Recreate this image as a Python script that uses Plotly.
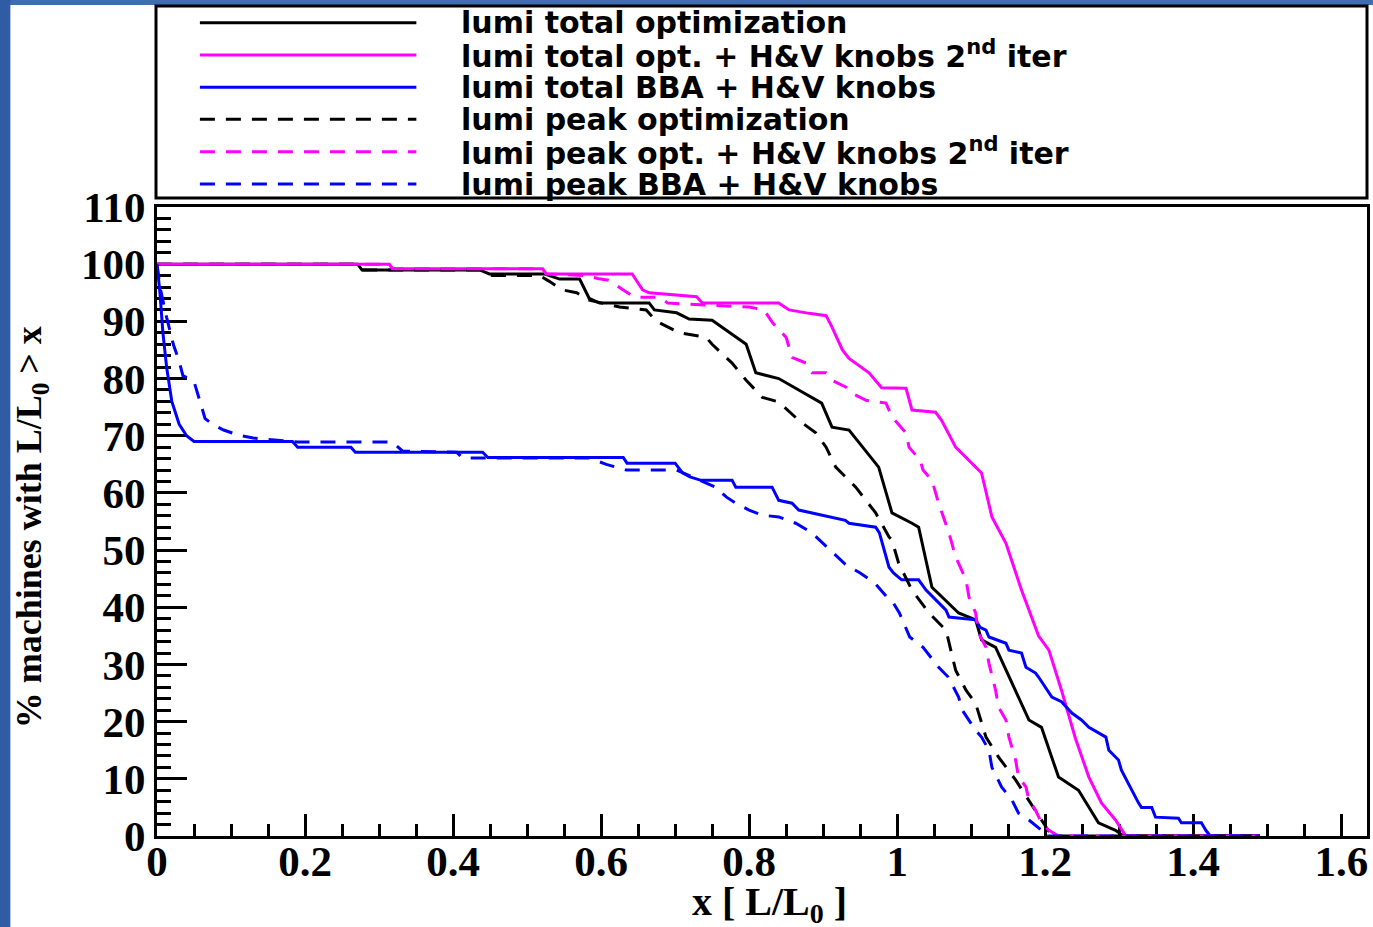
import plotly.graph_objects as go

# ---------------- data ----------------
labels = [
    "lumi total optimization",
    "lumi total opt. + H&amp;V knobs 2<sup>nd</sup> iter",
    "lumi total BBA + H&amp;V knobs",
    "lumi peak optimization",
    "lumi peak opt. + H&amp;V knobs 2<sup>nd</sup> iter",
    "lumi peak BBA + H&amp;V knobs",
]

tot_opt_x = [0, 0.271, 0.277, 0.436, 0.449, 0.523, 0.544, 0.571, 0.584, 0.598, 0.665, 0.672, 0.702,
             0.719, 0.750, 0.796, 0.809, 0.840, 0.867, 0.898, 0.912, 0.935, 0.975, 0.993, 1.020,
             1.029, 1.047, 1.083, 1.106, 1.114, 1.133, 1.178, 1.195, 1.218, 1.245, 1.272, 1.295,
             1.306, 1.49]
tot_opt_y = [100, 100, 99, 99, 98.3, 98.3, 97.4, 97.4, 94, 93.2, 93.2, 92, 91.5,
             90.4, 90.2, 86, 81, 80, 78, 75.7, 71.5, 71, 64.5, 56.5, 54.7,
             54, 43.5, 39, 37.8, 34.3, 33, 20.3, 19, 10.3, 8, 2.3, 1,
             0, 0]

tot_hv_x = [0, 0.314, 0.318, 0.521, 0.526, 0.642, 0.656, 0.665, 0.729, 0.737, 0.840, 0.854, 0.881,
            0.904, 0.912, 0.926, 0.935, 0.962, 0.979, 1.012, 1.020, 1.052, 1.060, 1.079, 1.110,
            1.114, 1.128, 1.147, 1.168, 1.191, 1.205, 1.222, 1.241, 1.259, 1.276, 1.295, 1.309, 1.49]
tot_hv_y = [100, 100, 99.2, 99.2, 98.3, 98.3, 95.5, 95, 94.3, 93.2, 93.2, 92, 91.4,
            91, 89, 85, 83.5, 81, 78.4, 78.3, 74.5, 74.1, 72.7, 68, 64,
            63.5, 55.8, 51.2, 43, 35, 32.5, 25.5, 17, 10.3, 5.8, 2.8, 0, 0]

tot_bba_x = [0, 0.004, 0.008, 0.013, 0.020, 0.030, 0.040, 0.050, 0.183, 0.190, 0.262, 0.268, 0.440,
             0.447, 0.630, 0.635, 0.700, 0.710, 0.720, 0.735, 0.777, 0.782, 0.831, 0.840, 0.858,
             0.867, 0.930, 0.935, 0.971, 0.976, 0.989, 0.995, 1.006, 1.029, 1.039, 1.066, 1.070,
             1.106, 1.112, 1.120, 1.124, 1.147, 1.151, 1.168, 1.174, 1.187, 1.191, 1.205, 1.209,
             1.222, 1.236, 1.249, 1.259, 1.282, 1.286, 1.299, 1.303, 1.326, 1.330, 1.344, 1.349,
             1.380, 1.384, 1.411, 1.417, 1.423, 1.49]
tot_bba_y = [100, 95, 88, 82, 76, 72, 70, 69, 69, 68, 68, 67.1, 67.1,
             66.2, 66.2, 65.2, 65.2, 63.5, 62.8, 62.2, 62.2, 61, 61, 58.7, 58.2,
             57, 55.2, 54.7, 54, 53, 47, 46, 44.8, 44.8, 43, 39.5, 38.3,
             37.8, 36.5, 36, 34.8, 33.7, 32.5, 32, 29.5, 28.5, 27.8, 25, 24.3,
             23.5, 21.5, 20.3, 19, 17.3, 15, 13.3, 11.5, 5.8, 5, 5, 3.3,
             3.1, 2.3, 2.3, 1, 0, 0]

pk_opt_x = [0, 0.271, 0.277, 0.436, 0.453, 0.517, 0.530, 0.548, 0.567, 0.584, 0.625, 0.661, 0.675,
            0.706, 0.742, 0.750, 0.777, 0.796, 0.818, 0.840, 0.867, 0.890, 0.904, 0.917, 0.935,
            0.944, 0.971, 0.989, 0.993, 1.002, 1.020, 1.043, 1.066, 1.079, 1.093, 1.106, 1.120,
            1.137, 1.160, 1.178, 1.195, 1.209, 1.49]
pk_opt_y = [100, 100, 99, 99, 98, 98, 97, 95.5, 95, 93.7, 92.5, 92, 90,
            88, 87.2, 86, 82.7, 79.7, 76.7, 75.9, 72.7, 70.5, 68, 64.5, 62.2,
            61, 56.5, 52.3, 51.7, 47.7, 43, 39, 36, 29, 25.5, 23.2, 17.3,
            13.8, 9.8, 6.3, 2.8, 0, 0]

pk_hv_x = [0, 0.314, 0.318, 0.520, 0.526, 0.580, 0.595, 0.610, 0.630, 0.645, 0.680, 0.690, 0.800,
           0.820, 0.832, 0.850, 0.858, 0.877, 0.885, 0.904, 0.912, 0.931, 0.939, 0.958, 0.985,
           0.993, 1.012, 1.016, 1.031, 1.035, 1.047, 1.056, 1.070, 1.079, 1.093, 1.097, 1.106,
           1.110, 1.120, 1.124, 1.133, 1.137, 1.147, 1.151, 1.160, 1.164, 1.174, 1.178, 1.187,
           1.195, 1.205, 1.218, 1.49]
pk_hv_y = [100, 100, 99.2, 99.2, 98.3, 98, 97.5, 97.2, 95.5, 94.2, 94.2, 93.2, 92.5,
           92, 89.7, 87.2, 83.7, 82.7, 81, 81, 79.7, 78.5, 77.4, 76.2, 75.7,
           73.3, 70.5, 68, 65.7, 64, 62.2, 58.2, 53, 48.8, 44.8, 41.8, 39,
           35.5, 33, 30.2, 25.5, 22.5, 20.3, 17.3, 13.3, 10.3, 8.6, 6.3, 4.5,
           2.3, 1, 0, 0]

pk_bba_x = [0, 0.004, 0.013, 0.022, 0.030, 0.035, 0.050, 0.055, 0.060, 0.065, 0.075, 0.090, 0.110,
            0.130, 0.190, 0.318, 0.332, 0.405, 0.413, 0.584, 0.607, 0.621, 0.634, 0.702, 0.733,
            0.755, 0.769, 0.782, 0.800, 0.818, 0.840, 0.863, 0.885, 0.910, 0.930, 0.950, 0.970,
            0.986, 0.995, 1.003, 1.017, 1.035, 1.056, 1.069, 1.083, 1.088, 1.106, 1.114, 1.124,
            1.128, 1.137, 1.141, 1.155, 1.164, 1.178, 1.183, 1.195, 1.198, 1.49]
pk_bba_y = [100, 96, 90.7, 86, 83, 80.5, 79.5, 77.4, 75, 73, 72, 71, 70.1,
            69.6, 68.9, 68.9, 67.3, 67.1, 66.1, 66.1, 65, 64.5, 64, 64, 62.2,
            61, 59.3, 58.2, 57, 56.1, 55.8, 54.7, 53, 50, 47.5, 46, 44.2,
            41.8, 40.7, 39, 34.8, 33, 29.5, 27.8, 24.3, 22, 18.5, 17.3, 15,
            12, 9.8, 8.6, 6.3, 4, 2.8, 2.3, 1, 0, 0]

xs = [tot_opt_x, tot_hv_x, tot_bba_x, pk_opt_x, pk_hv_x, pk_bba_x]
ys = [tot_opt_y, tot_hv_y, tot_bba_y, pk_opt_y, pk_hv_y, pk_bba_y]
colors = ["#000000", "#ff00ff", "#0000ff", "#000000", "#ff00ff", "#0000ff"]
dashes = ["solid", "solid", "solid", "15px,11px", "15px,11px", "15px,11px"]

# ---------------- figure ----------------
W, H = 1373, 927
ML, MR, MT, MB = 157, 3, 207, 91
PW, PH = W - ML - MR, H - MT - MB


def px2paper_x(px):
    return (px - ML) / PW


def px2paper_y(py):
    return (H - MB - py) / PH


fig = go.Figure()
for x, y, c, d, name in zip(xs, ys, colors, dashes, labels):
    fig.add_trace(go.Scatter(x=x, y=y, mode="lines", name=name,
                             line=dict(color=c, width=3, dash=d),
                             cliponaxis=False, showlegend=False))

serif = "Liberation Serif"
sans = "DejaVu Sans"

shapes = []
annotations = []

# blue frame strips (slide background)
shapes.append(dict(type="rect", xref="paper", yref="paper",
                   x0=px2paper_x(0), x1=px2paper_x(W + 5), y0=px2paper_y(5), y1=px2paper_y(-5),
                   fillcolor="#3f6db0", line=dict(width=0), layer="above"))
shapes.append(dict(type="rect", xref="paper", yref="paper",
                   x0=px2paper_x(-5), x1=px2paper_x(10), y0=px2paper_y(H + 5), y1=px2paper_y(-5),
                   fillcolor="#2f5ca5", line=dict(width=0), layer="above"))

# legend box
shapes.append(dict(type="rect", xref="paper", yref="paper",
                   x0=px2paper_x(156), x1=px2paper_x(1370), y0=px2paper_y(198), y1=px2paper_y(6),
                   line=dict(color="black", width=3), fillcolor="rgba(0,0,0,0)"))

leg_py = [22.7, 55, 87.3, 119.3, 151.7, 184]
for py, c, d, name in zip(leg_py, colors, dashes, labels):
    shapes.append(dict(type="line", xref="paper", yref="paper",
                       x0=px2paper_x(200), x1=px2paper_x(417),
                       y0=px2paper_y(py), y1=px2paper_y(py),
                       line=dict(color=c, width=3, dash=d)))
    annotations.append(dict(xref="paper", yref="paper", x=px2paper_x(460), y=px2paper_y(py),
                            xanchor="left", yanchor="middle", showarrow=False, text=name,
                            font=dict(family=sans, size=30, color="black", weight="bold")))

# axis titles
annotations.append(dict(xref="paper", yref="paper", x=px2paper_x(31), y=px2paper_y(527),
                        xanchor="center", yanchor="middle", showarrow=False, textangle=-90,
                        text="% machines with L/L<sub>0</sub> &gt; x",
                        font=dict(family=serif, size=36, color="black", weight="bold")))
annotations.append(dict(xref="paper", yref="paper", x=px2paper_x(771), y=px2paper_y(904),
                        xanchor="center", yanchor="middle", showarrow=False,
                        text="x [ L/L<sub>0</sub> ]",
                        font=dict(family=serif, size=40, color="black", weight="bold")))

tickfont = dict(family=serif, size=43, color="black", weight="bold")

fig.update_layout(
    width=W, height=H,
    margin=dict(l=ML, r=MR, t=MT, b=MB, pad=0),
    paper_bgcolor="white", plot_bgcolor="white",
    shapes=shapes, annotations=annotations,
    showlegend=False,
    xaxis=dict(range=[0, (1370 - ML) / 742.0], dtick=0.2, tick0=0,
               showgrid=False, zeroline=False, showline=True, linewidth=3, linecolor="black",
               mirror=True, ticks="inside", ticklen=22, tickwidth=3, tickcolor="black",
               minor=dict(dtick=0.05, ticks="inside", ticklen=12, tickwidth=3, tickcolor="black",
                          showgrid=False),
               tickfont=tickfont, ticklabelstandoff=-15, layer="below traces"),
    yaxis=dict(range=[0, 110], dtick=10, tick0=0,
               showgrid=False, zeroline=False, showline=True, linewidth=3, linecolor="black",
               mirror=True, ticks="inside", ticklen=30, tickwidth=3, tickcolor="black",
               minor=dict(dtick=2, ticks="inside", ticklen=14, tickwidth=3, tickcolor="black",
                          showgrid=False),
               tickfont=tickfont, layer="below traces"),
)

fig.write_html("out.html", config={"displayModeBar": False},
               post_script="document.body.style.margin='0';document.body.style.overflow='hidden';")
